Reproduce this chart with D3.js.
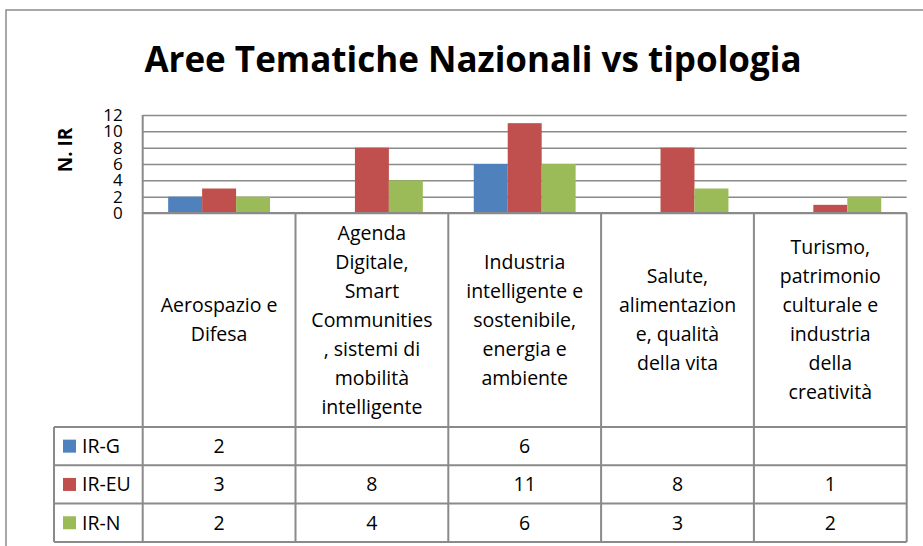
<!DOCTYPE html>
<html>
<head>
<meta charset="utf-8">
<script src="https://cdn.jsdelivr.net/npm/d3@7"></script>
<style>
  body { margin: 0; background: #fff; }
  text { font-family: "Open Sans", "Noto Sans", sans-serif; fill: #000; }
</style>
</head>
<body>
<svg id="drawing_region"></svg>
<script>
// data
var categories = [
    "Aerospazio e\nDifesa",
    "Agenda\nDigitale,\nSmart\nCommunities\n, sistemi di\nmobilità\nintelligente",
    "Industria\nintelligente e\nsostenibile,\nenergia e\nambiente",
    "Salute,\nalimentazion\ne, qualità\ndella vita",
    "Turismo,\npatrimonio\nculturale e\nindustria\ndella\ncreatività"
];
var series = ["IR-G", "IR-EU", "IR-N"];
var irG  = [2, null, 6, null, null];
var irEU = [3, 8, 11, 8, 1];
var irN  = [2, 4, 6, 3, 2];
var yTicks = [0, 2, 4, 6, 8, 10, 12];
var colors = ["#4F81BD", "#C0504D", "#9BBB59"];

var values = [irG, irEU, irN];

var config = {
    width: 923,
    height: 546,
    plot: {left: 142.7, right: 906.7, top: 115, bottom: 213},
    tableBottom: 427,
    rowHeight: 38.3,
    legendLeft: 54
};

var svg = d3.select('#drawing_region')
    .attr('width', config.width)
    .attr('height', config.height);

var grid = '#8a8a8a';

// outer chart frame
svg.append('path')
    .attr('d', `M6,${config.height} V10 H${config.width}`)
    .attr('fill', 'none')
    .attr('stroke', '#8c8c8c')
    .attr('stroke-width', 1.5);

// title
svg.append('text')
    .attr('x', 473)
    .attr('y', 72)
    .attr('text-anchor', 'middle')
    .style('font-size', '35px')
    .style('font-weight', 'bold')
    .text('Aree Tematiche Nazionali vs tipologia');

var xscale = d3.scaleBand()
    .domain(categories)
    .range([config.plot.left, config.plot.right]);

var bw = xscale.bandwidth();
var xsub = d3.scaleBand()
    .domain(series)
    .range([bw / 6, bw * 5 / 6]);

var yscale = d3.scaleLinear()
    .domain([0, 12])
    .range([config.plot.bottom, config.plot.top]);

// gridlines
var gridAxis = d3.axisLeft(yscale)
    .tickValues(yTicks)
    .tickSize(-(config.plot.right - config.plot.left))
    .tickFormat('');
svg.append('g')
    .attr('transform', `translate(${config.plot.left},0)`)
    .call(gridAxis)
    .call(g => g.select('.domain').remove())
    .call(g => g.selectAll('line').attr('stroke', grid).attr('stroke-width', 1.5));

// y labels
var yaxis = d3.axisLeft(yscale)
    .tickValues(yTicks)
    .tickSize(0)
    .tickPadding(6);
svg.append('g')
    .attr('transform', `translate(${config.plot.left - 14},0)`)
    .call(yaxis)
    .call(g => g.select('.domain').remove())
    .call(g => g.selectAll('text')
        .attr('fill', '#000')
        .style('font-family', '"Open Sans", sans-serif')
        .style('font-size', '17px'));

// axis title
svg.append('text')
    .attr('transform', 'translate(72,150) rotate(-90)')
    .attr('text-anchor', 'middle')
    .style('font-size', '19px')
    .style('font-weight', 'bold')
    .text('N. IR');

// bars
var bars = [];
categories.forEach((c, i) => {
    series.forEach((s, j) => {
        if (values[j][i] != null) bars.push({cat: c, ser: s, v: values[j][i], k: j});
    });
});
svg.append('g').selectAll('rect').data(bars).join('rect')
    .attr('x', d => xscale(d.cat) + xsub(d.ser))
    .attr('y', d => yscale(d.v))
    .attr('width', xsub.bandwidth())
    .attr('height', d => yscale(0) - yscale(d.v))
    .attr('fill', d => colors[d.k]);

// data table
var tb = config.plot.bottom;
var rows = series.map((s, j) => ({ser: s, k: j, y0: config.tableBottom + j * config.rowHeight}));
var tableRight = config.plot.right;
var lines = svg.append('g')
    .attr('stroke', grid)
    .attr('stroke-width', 2)
    .attr('fill', 'none');

// horizontal lines
lines.append('line').attr('x1', config.plot.left).attr('x2', tableRight).attr('y1', tb).attr('y2', tb);
[0, 1, 2, 3].forEach(r => {
    var y = config.tableBottom + r * config.rowHeight;
    lines.append('line').attr('x1', config.legendLeft).attr('x2', tableRight).attr('y1', y).attr('y2', y);
});
var lastY = config.tableBottom + 3 * config.rowHeight;
// vertical lines
lines.append('line').attr('x1', config.legendLeft).attr('x2', config.legendLeft)
    .attr('y1', config.tableBottom).attr('y2', lastY);
categories.forEach(c => {
    var x = xscale(c);
    lines.append('line').attr('x1', x).attr('x2', x).attr('y2', lastY)
        .attr('y1', x === config.plot.left ? config.plot.top : tb);
});
lines.append('line').attr('x1', tableRight).attr('x2', tableRight).attr('y1', tb).attr('y2', lastY);

// category labels
var lh = 29;
var catG = svg.append('g').selectAll('text').data(categories).join('text')
    .attr('text-anchor', 'middle')
    .style('font-size', '19.5px');
catG.each(function(c) {
    var parts = c.split('\n');
    var cy = (tb + config.tableBottom) / 2 - (parts.length - 1) * lh / 2;
    d3.select(this).selectAll('tspan').data(parts).join('tspan')
        .attr('x', xscale(c) + bw / 2)
        .attr('y', (p, i) => cy + i * lh)
        .attr('dy', '0.35em')
        .text(p => p);
});

// legend cells
var leg = svg.append('g').selectAll('g').data(rows).join('g');
leg.append('rect')
    .attr('x', config.legendLeft + 9)
    .attr('y', d => d.y0 + config.rowHeight / 2 - 6.5)
    .attr('width', 13)
    .attr('height', 13)
    .attr('fill', d => colors[d.k]);
leg.append('text')
    .attr('x', config.legendLeft + 28)
    .attr('y', d => d.y0 + config.rowHeight / 2)
    .attr('dy', '0.35em')
    .style('font-size', '19.5px')
    .text(d => d.ser);

// table values
var cells = [];
rows.forEach(r => categories.forEach((c, i) => {
    if (values[r.k][i] != null) cells.push({y0: r.y0, cat: c, v: values[r.k][i]});
}));
svg.append('g').selectAll('text').data(cells).join('text')
    .attr('x', d => xscale(d.cat) + bw / 2)
    .attr('y', d => d.y0 + config.rowHeight / 2)
    .attr('dy', '0.35em')
    .attr('text-anchor', 'middle')
    .style('font-size', '19.5px')
    .text(d => d.v);
</script>
</body>
</html>
